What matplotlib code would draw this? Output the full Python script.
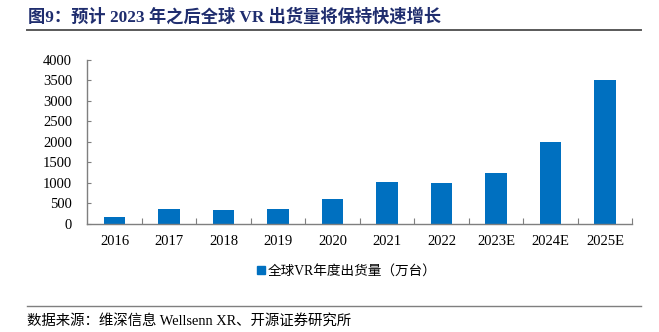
import matplotlib
matplotlib.use('Agg')
import matplotlib.pyplot as plt
from matplotlib.lines import Line2D

plt.rcParams['font.family'] = ['Liberation Serif', 'Noto Sans CJK SC']
plt.rcParams['axes.unicode_minus'] = False

years = ['2016', '2017', '2018', '2019', '2020', '2021', '2022', '2023E', '2024E', '2025E']
shipments = [160, 360, 330, 350, 600, 1030, 990, 1250, 2000, 3500]  # 万台
yticks = [0, 500, 1000, 1500, 2000, 2500, 3000, 3500, 4000]

title = '图9：预计 2023 年之后全球 VR 出货量将保持快速增长'
series_name = '全球VR年度出货量（万台）'
source = '数据来源：维深信息 Wellsenn XR、开源证券研究所'

bar_color = '#0070C0'
axis_color = '#7F7F7F'

W, H = 659, 332
fig = plt.figure(figsize=(W / 100, H / 100), dpi=100)
ax = fig.add_axes([87.3 / W, 1 - 223.7 / H, (632.3 - 87.3) / W, (223.7 - 60) / H])

x = range(len(years))
ax.bar(x, shipments, width=0.4, color=bar_color, zorder=2)

ax.set_xlim(-0.5, len(years) - 0.5)
ax.set_ylim(0, 4000)
ax.set_yticks(yticks)
ax.set_yticklabels([str(v) for v in yticks], fontsize=10.5)

# year labels centred under bars, tick marks on category boundaries
ax.set_xticks(list(x))
ax.set_xticklabels(years, fontsize=10.5)
ax.tick_params(axis='x', length=0, pad=8)
ax.set_xticks([i + 0.5 for i in range(len(years))], minor=True)
ax.tick_params(axis='x', which='minor', direction='in', length=4, width=0.8, color=axis_color)
ax.tick_params(axis='y', direction='in', length=3, width=0.8, color=axis_color, pad=11)

for side in ['top', 'right']:
    ax.spines[side].set_visible(False)
for side in ['left', 'bottom']:
    ax.spines[side].set_color(axis_color)
    ax.spines[side].set_linewidth(1.0)

# legend
handle = Line2D([], [], marker='s', linestyle='none', markersize=5.5, color=bar_color)
fig.legend([handle], [series_name], loc='center', bbox_to_anchor=(346 / W, 1 - 271.5 / H),
           frameon=False, fontsize=9.8, handletextpad=0.05, handlelength=0.8)

# title and source with rules
fig.text(28 / W, 1 - 17 / H, title, fontsize=12.4, fontweight='bold', color='#1F2D6E',
         ha='left', va='center')
fig.add_artist(Line2D([27 / W, 641 / W], [1 - 29.5 / H] * 2, color='#595959', linewidth=1.4))
fig.add_artist(Line2D([27 / W, 641 / W], [1 - 305.7 / H] * 2, color='#7F7F7F', linewidth=1.0))
fig.text(27 / W, 1 - 321 / H, source, fontsize=10.4, color='#000000', ha='left', va='center')

fig.savefig('out.png', dpi=100)
